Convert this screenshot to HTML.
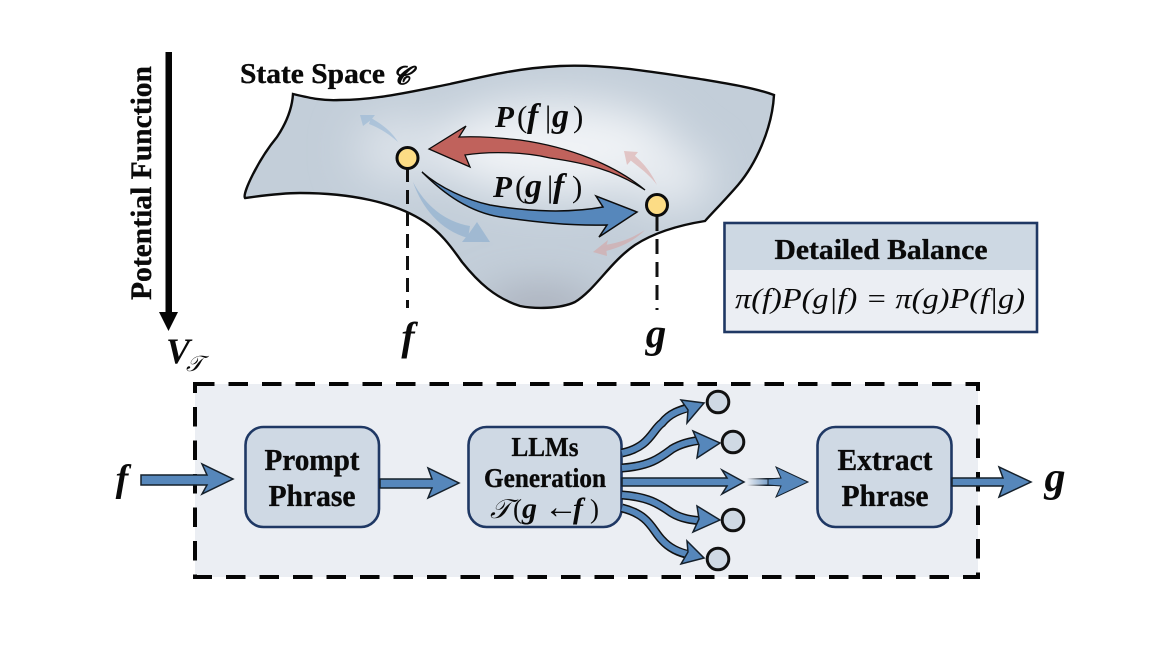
<!DOCTYPE html>
<html><head><meta charset="utf-8"><style>
html,body{margin:0;padding:0;background:#fff;width:1168px;height:656px;overflow:hidden}
svg{display:block}
text{font-family:"Liberation Serif",serif;fill:#0a0a0a}
.b{font-weight:bold;stroke:#0a0a0a;stroke-width:.35}
.m{font-weight:bold;font-style:italic}
.r{font-weight:normal;font-style:normal}
.a{fill:#5687bb;stroke:#15202b;stroke-width:1.5;stroke-linejoin:miter}
.so{fill:none;stroke:#111;stroke-width:9}
.si{fill:none;stroke:#5687bb;stroke-width:6}
.c{fill:#cfd9e4;stroke:#111;stroke-width:3}
.box{fill:#cfd9e4;stroke:#1f3864;stroke-width:2.6}
</style></head><body>
<svg width="1168" height="656" viewBox="0 0 1168 656" xmlns="http://www.w3.org/2000/svg">
<defs>
<clipPath id="sc"><path id="sp" d="M293 94 C310 98 322 101 340 100 C375 100 410 92 450 84 C490 75 520 68 560 66 C610 64 660 73 700 79 C730 84 755 88 774 95 C772 130 755 165 738 185 C725 200 715 210 705 221 C680 225 655 232 635 245 C610 262 595 290 575 302 C560 309 535 309 520 306 C495 298 478 282 462 262 C450 245 440 232 425 222 C395 202 350 193 300 193 C280 193 260 196 245 198 C242 194 258 160 277 137 C285 125 292 110 293 94 Z"/></clipPath>
<filter id="bl" x="-50%" y="-50%" width="200%" height="200%"><feGaussianBlur stdDeviation="22"/></filter>
<linearGradient id="fade" x1="747" x2="775" y1="0" y2="0" gradientUnits="userSpaceOnUse"><stop offset="0" stop-color="#ebeef3"/><stop offset="1" stop-color="#5687bb"/></linearGradient>
<linearGradient id="fade2" x1="747" x2="775" y1="0" y2="0" gradientUnits="userSpaceOnUse"><stop offset="0" stop-color="#ebeef3"/><stop offset="0.7" stop-color="#15202b"/></linearGradient>
</defs>

<!-- surface -->
<g clip-path="url(#sc)">
<rect x="230" y="55" width="560" height="260" fill="#c3ced9"/>
<g filter="url(#bl)">
<ellipse cx="555" cy="148" rx="120" ry="46" fill="#f0f3f6"/>
<ellipse cx="670" cy="178" rx="40" ry="30" fill="#e8ecf1"/>
<ellipse cx="400" cy="150" rx="45" ry="32" fill="#dde3ea"/>
<ellipse cx="540" cy="308" rx="60" ry="18" fill="#a3a7b4"/>
</g>
</g>
<use href="#sp" fill="none" stroke="#0c0c0c" stroke-width="2.4" stroke-linejoin="miter"/>

<!-- faint arrows -->
<g opacity="0.5">
<path d="M398 142 C392 132 382 124 371 118 L369 124 C380 128 390 135 398 142 Z" fill="#8db1d4"/>
<polygon points="360,115 375,115 371,120 363,126" fill="#8db1d4"/>
<path d="M413 182 C425 205 445 222 470 226 L468 238 C440 230 422 208 413 182 Z" fill="#7ea6cd"/>
<polygon points="490,242 477,222 470,232 462,242" fill="#7ea6cd"/>
<path d="M657 185 C650 170 642 162 634 155 L630 160 C640 168 650 175 657 185 Z" fill="#d99d9a"/>
<polygon points="624,151 638,152 634,157 627,165" fill="#d99d9a"/>
<path d="M645 230 C632 238 620 243 604 245 L606 251 C622 247 635 240 645 230 Z" fill="#d99d9a"/>
<polygon points="593,252 608,240 606,247 607,256" fill="#d99d9a"/>
</g>

<!-- red arrow -->
<path d="M429 149 L466 126 L459 137 C480 136 500 138 520 140 C570 147 615 165 645 190 C615 170 585 163 550 158 C525 152 490 151 465 155 L470 167 Z" fill="#c0625c" stroke="#0c0c0c" stroke-width="1.3" stroke-linejoin="miter"/>
<!-- blue arrow -->
<path d="M422 172 C440 188 467 200 490 205 C530 212 570 213 603 207 L596 196 L637 212 L599 237 L607 225 C570 226 535 222 500 217 C470 212 445 195 422 172 Z" fill="#5687bb" stroke="#0c0c0c" stroke-width="1.5" stroke-linejoin="miter"/>

<!-- dashes and nodes -->
<line x1="407.5" y1="168" x2="407.5" y2="308" stroke="#111" stroke-width="3" stroke-dasharray="14 8"/>
<line x1="657" y1="216" x2="657" y2="310" stroke="#111" stroke-width="3" stroke-dasharray="15 8"/>
<circle cx="407.5" cy="158" r="10.5" fill="#fcdc85" stroke="#0c0c0c" stroke-width="3"/>
<circle cx="657" cy="205" r="10.5" fill="#fcdc85" stroke="#0c0c0c" stroke-width="3"/>

<!-- potential -->
<rect x="165.5" y="52" width="6.5" height="262" fill="#050505"/>
<polygon points="159,312 178,312 168.5,331" fill="#050505"/>
<text class="b" font-size="30" transform="translate(151,300) rotate(-90)" textLength="234" lengthAdjust="spacingAndGlyphs">Potential Function</text>
<text class="m" font-size="36" x="166" y="363">V</text>
<text font-size="22" font-style="italic" x="186" y="371">𝒯</text>

<text class="b" font-size="28" x="240" y="83" textLength="145" lengthAdjust="spacingAndGlyphs">State Space</text>
<text class="m" font-size="25" x="401" y="84" text-anchor="middle" font-style="italic">𝓒</text>

<text font-size="31" y="127"><tspan class="m" x="495">P</tspan><tspan class="r" x="517">(</tspan><tspan class="m" x="527" font-size="34">f</tspan><tspan class="r" x="545">|</tspan><tspan class="m" x="552" font-size="34">g</tspan><tspan class="r" x="573">)</tspan></text>
<text font-size="31" y="197"><tspan class="m" x="493">P</tspan><tspan class="r" x="515">(</tspan><tspan class="m" x="525" font-size="34">g</tspan><tspan class="r" x="547">|</tspan><tspan class="m" x="553" font-size="34">f</tspan><tspan class="r" x="572">)</tspan></text>

<text class="m" font-size="40" x="408" y="350" text-anchor="middle">f</text>
<text class="m" font-size="41" x="656" y="347" text-anchor="middle">g</text>

<!-- detailed balance -->
<rect x="724.5" y="223" width="312.5" height="109" fill="#ebeef3" stroke="#1f3864" stroke-width="2.6"/>
<rect x="726" y="224.500" width="309.500" height="45.500" fill="#cdd8e3"/>
<text class="b" font-size="29" x="881" y="259" text-anchor="middle" textLength="213" lengthAdjust="spacingAndGlyphs">Detailed Balance</text>
<text font-size="29" font-style="italic" x="735" y="308" textLength="290" lengthAdjust="spacingAndGlyphs">π(f)P(g|f) = π(g)P(f|g)</text>

<!-- dashed panel -->
<rect x="195" y="384" width="783" height="193" fill="#ebeef3"/>
<rect x="195" y="384" width="783" height="193" fill="none" stroke="#050505" stroke-width="4" stroke-dasharray="19.500 14"/>

<!-- boxes -->
<rect class="box" x="245.500" y="427" width="133.500" height="100" rx="18"/>
<rect class="box" x="468.500" y="427" width="153" height="100" rx="18"/>
<rect class="box" x="817.500" y="427" width="134" height="100" rx="18"/>

<text class="b" font-size="31" x="312" y="470" text-anchor="middle" textLength="95" lengthAdjust="spacingAndGlyphs">Prompt</text>
<text class="b" font-size="31" x="312" y="506" text-anchor="middle" textLength="87" lengthAdjust="spacingAndGlyphs">Phrase</text>
<text class="b" font-size="27" x="545" y="456" text-anchor="middle" textLength="67" lengthAdjust="spacingAndGlyphs">LLMs</text>
<text class="b" font-size="27" x="545" y="487" text-anchor="middle" textLength="122" lengthAdjust="spacingAndGlyphs">Generation</text>
<text font-size="27" y="518"><tspan font-style="italic" x="490">𝒯</tspan><tspan class="r" x="513">(</tspan><tspan class="m" x="522" font-size="30">g</tspan><tspan class="r" x="544" font-size="34">←</tspan><tspan class="m" x="573" font-size="30">f</tspan><tspan class="r" x="590">)</tspan></text>
<text class="b" font-size="31" x="885" y="470" text-anchor="middle" textLength="95" lengthAdjust="spacingAndGlyphs">Extract</text>
<text class="b" font-size="31" x="885" y="506" text-anchor="middle" textLength="87" lengthAdjust="spacingAndGlyphs">Phrase</text>

<!-- flow arrows -->
<polygon class="a" points="141,475 207,475 202,464 233,479 202,494 207,485 141,485"/>
<polygon class="a" points="380,479 432,479 428,468 459,483 428,498 432,488 380,488"/>
<polygon class="a" points="622,478 727,478 722,470 744,482 722,494 727,486 622,486"/>
<rect x="747" y="478" width="35" height="8" fill="url(#fade2)"/>
<rect x="747" y="479.500" width="35" height="5" fill="url(#fade)"/>
<polygon class="a" points="768,479 781,478 776,467 808,482 776,497 781,486 768,485" style="stroke-width:1"/>
<polygon class="a" points="952,478 1003,478 999,467 1031,482 999,497 1003,486 952,486"/>

<!-- branches -->
<g>
<path class="so" d="M622 453 C650 447 652 430 662 423 C670 413 680 410 690 407"/>
<path class="so" d="M622 468 C650 466 660 458 672 449 C682 443 692 441 702 440"/>
<path class="so" d="M622 495 C650 497 660 505 672 513 C682 519 692 520 702 521"/>
<path class="so" d="M622 508 C650 515 652 530 662 540 C670 549 680 553 690 555"/>
<path class="si" d="M622 453 C650 447 652 430 662 423 C670 413 680 410 692 407"/>
<path class="si" d="M622 468 C650 466 660 458 672 449 C682 443 692 441 704 440"/>
<path class="si" d="M622 495 C650 497 660 505 672 513 C682 519 692 520 704 521"/>
<path class="si" d="M622 508 C650 515 652 530 662 540 C670 549 680 553 692 555"/>
<polygon class="a" points="704,403 687,423 688,410 681,400"/>
<polygon class="a" points="720,443 697,458 699,445 693,431"/>
<polygon class="a" points="720,520 693,532 699,519 697,506"/>
<polygon class="a" points="704,558 681,564 688,552 687,541"/>
</g>
<circle class="c" cx="718" cy="402" r="10.800"/>
<circle class="c" cx="733" cy="442" r="10.800"/>
<circle class="c" cx="733" cy="520" r="10.800"/>
<circle class="c" cx="718" cy="559" r="10.800"/>

<text class="m" font-size="38" x="122" y="491" text-anchor="middle">f</text>
<text class="m" font-size="42" x="1055" y="491" text-anchor="middle">g</text>
</svg>
</body></html>
